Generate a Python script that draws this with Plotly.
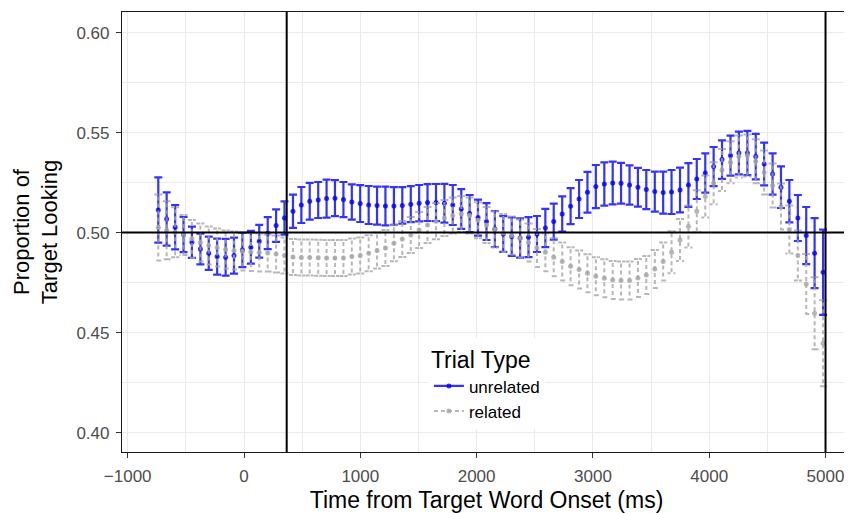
import plotly.graph_objects as go

# ---------------- data ----------------
time_ms = [-737, -665, -592, -520, -448, -375, -303, -231, -158, -86,
           -14, 59, 131, 204, 276, 348, 421, 493, 565, 638,
           710, 782, 855, 927, 999, 1072, 1144, 1216, 1289, 1361,
           1434, 1506, 1578, 1651, 1723, 1795, 1868, 1940, 2012, 2085,
           2157, 2229, 2302, 2374, 2446, 2519, 2591, 2663, 2736, 2808,
           2881, 2953, 3025, 3098, 3170, 3242, 3315, 3387, 3459, 3532,
           3604, 3676, 3749, 3821, 3893, 3966, 4038, 4110, 4183, 4255,
           4328, 4400, 4472, 4545, 4617, 4689, 4762, 4834, 4906, 4979]

unrelated_mean = [0.5113, 0.5068, 0.5027, 0.4990, 0.4952, 0.4918, 0.4897, 0.4880, 0.4877, 0.4885,
                  0.4913, 0.4927, 0.4957, 0.4997, 0.5035, 0.5073, 0.5107, 0.5138, 0.5157, 0.5163,
                  0.5170, 0.5172, 0.5165, 0.5153, 0.5145, 0.5138, 0.5135, 0.5133, 0.5133, 0.5136,
                  0.5142, 0.5147, 0.5150, 0.5150, 0.5147, 0.5138, 0.5118, 0.5095, 0.5075, 0.5055,
                  0.5018, 0.4993, 0.4980, 0.4973, 0.4977, 0.4993, 0.5023, 0.5055, 0.5093, 0.5132,
                  0.5168, 0.5202, 0.5230, 0.5243, 0.5248, 0.5247, 0.5238, 0.5227, 0.5215, 0.5205,
                  0.5200, 0.5203, 0.5213, 0.5238, 0.5268, 0.5298, 0.5330, 0.5365, 0.5385, 0.5398,
                  0.5398, 0.5380, 0.5343, 0.5293, 0.5227, 0.5157, 0.5073, 0.4985, 0.4897, 0.4802]

unrelated_se = [0.0163, 0.0133, 0.0111, 0.0088, 0.0078, 0.0077, 0.0083, 0.0090, 0.0092, 0.0090,
                0.0086, 0.0082, 0.0082, 0.0080, 0.0081, 0.0083, 0.0083, 0.0090, 0.0092, 0.0090,
                0.0095, 0.0090, 0.0088, 0.0088, 0.0092, 0.0095, 0.0095, 0.0097, 0.0094, 0.0091,
                0.0090, 0.0091, 0.0092, 0.0093, 0.0097, 0.0100, 0.0099, 0.0093, 0.0090, 0.0092,
                0.0090, 0.0089, 0.0096, 0.0098, 0.0100, 0.0090, 0.0096, 0.0090, 0.0088, 0.0090,
                0.0095, 0.0102, 0.0108, 0.0108, 0.0107, 0.0102, 0.0098, 0.0097, 0.0098, 0.0100,
                0.0105, 0.0110, 0.0112, 0.0109, 0.0100, 0.0098, 0.0098, 0.0096, 0.0100, 0.0107,
                0.0111, 0.0114, 0.0107, 0.0103, 0.0104, 0.0106, 0.0115, 0.0143, 0.0175, 0.0213]

related_mean = [0.5025, 0.5012, 0.5002, 0.4988, 0.4968, 0.4950, 0.4935, 0.4925, 0.4915, 0.4910,
                0.4905, 0.4903, 0.4900, 0.4898, 0.4893, 0.4885, 0.4878, 0.4876, 0.4875, 0.4874,
                0.4873, 0.4873, 0.4873, 0.4880, 0.4885, 0.4897, 0.4910, 0.4923, 0.4947, 0.4968,
                0.4988, 0.5013, 0.5038, 0.5057, 0.5073, 0.5085, 0.5093, 0.5085, 0.5062, 0.5038,
                0.5015, 0.4998, 0.4985, 0.4970, 0.4950, 0.4923, 0.4902, 0.4877, 0.4855, 0.4832,
                0.4815, 0.4797, 0.4782, 0.4772, 0.4763, 0.4760, 0.4760, 0.4773, 0.4788, 0.4818,
                0.4855, 0.4902, 0.4963, 0.5030, 0.5107, 0.5180, 0.5247, 0.5313, 0.5352, 0.5380,
                0.5385, 0.5357, 0.5300, 0.5235, 0.5130, 0.5015, 0.4885, 0.4743, 0.4597, 0.4447]

related_se = [0.0165, 0.0145, 0.0125, 0.0100, 0.0095, 0.0095, 0.0095, 0.0095, 0.0095, 0.0095,
              0.0095, 0.0095, 0.0095, 0.0093, 0.0092, 0.0090, 0.0090, 0.0090, 0.0090, 0.0090,
              0.0090, 0.0090, 0.0090, 0.0090, 0.0090, 0.0090, 0.0090, 0.0090, 0.0090, 0.0090,
              0.0090, 0.0090, 0.0090, 0.0090, 0.0090, 0.0090, 0.0090, 0.0090, 0.0090, 0.0090,
              0.0090, 0.0095, 0.0095, 0.0095, 0.0095, 0.0095, 0.0095, 0.0095, 0.0095, 0.0095,
              0.0095, 0.0095, 0.0095, 0.0095, 0.0095, 0.0095, 0.0095, 0.0095, 0.0095, 0.0095,
              0.0095, 0.0105, 0.0105, 0.0105, 0.0105, 0.0105, 0.0105, 0.0105, 0.0105, 0.0105,
              0.0105, 0.0110, 0.0110, 0.0110, 0.0115, 0.0120, 0.0125, 0.0150, 0.0180, 0.0215]

series_names = ["unrelated", "related"]
ref_vlines = [367, 5000]
ref_hline = 0.5
x_ticks = [-1000, 0, 1000, 2000, 3000, 4000, 5000]
x_ticklabels = ["\u22121000", "0", "1000", "2000", "3000", "4000", "5000"]
y_ticks = [0.40, 0.45, 0.50, 0.55, 0.60]
y_ticklabels = ["0.40", "0.45", "0.50", "0.55", "0.60"]

# ---------------- style ----------------
FONT = "Liberation Sans, Arial, sans-serif"
BLUE = "rgba(0,0,255,0.8)"
GREY = "rgba(165,165,165,0.8)"
X_RANGE = [-1049, 5219]
Y_RANGE = [0.3903, 0.6103]
# the page body adds an 8px offset, so the figure is sized/marginned to compensate
W, H = 844, 505
M = dict(l=114, r=1, t=4, b=61)
plot_w = W - M["l"] - M["r"]
cap_px = 4
cap_ms = cap_px * (X_RANGE[1] - X_RANGE[0]) / plot_w

fig = go.Figure()

# unrelated: points with solid error bars
fig.add_trace(go.Scatter(
    x=time_ms, y=unrelated_mean, mode="markers", showlegend=False,
    marker=dict(color=BLUE, size=5),
    error_y=dict(type="data", array=unrelated_se, visible=True,
                 color=BLUE, thickness=2.2, width=cap_px),
    hoverinfo="skip"))

# related: dashed error bars built as a path (ggplot errorbar path order)
ex, ey = [], []
for t, m, s in zip(time_ms, related_mean, related_se):
    hi, lo = m + s, m - s
    ex += [t - cap_ms, t + cap_ms, t, t, t + cap_ms, t - cap_ms, None]
    ey += [hi, hi, hi, lo, lo, lo, None]
fig.add_trace(go.Scatter(
    x=ex, y=ey, mode="lines", showlegend=False, hoverinfo="skip",
    line=dict(color=GREY, width=2, dash="4px,3px")))
fig.add_trace(go.Scatter(
    x=time_ms, y=related_mean, mode="markers", showlegend=False,
    marker=dict(color=GREY, size=5), hoverinfo="skip"))

# legend entries
fig.add_trace(go.Scatter(x=[None], y=[None], mode="lines+markers", name=series_names[0],
                         line=dict(color=BLUE, width=2.2),
                         marker=dict(color=BLUE, size=5)))
fig.add_trace(go.Scatter(x=[None], y=[None], mode="lines+markers", name=series_names[1],
                         line=dict(color=GREY, width=2, dash="4px,3px"),
                         marker=dict(color=GREY, size=5)))

for xv in ref_vlines:
    fig.add_shape(type="line", xref="x", yref="paper", x0=xv, x1=xv, y0=0, y1=1,
                  line=dict(color="black", width=2), layer="above")
fig.add_shape(type="line", xref="paper", yref="y", x0=0, x1=1, y0=ref_hline, y1=ref_hline,
              line=dict(color="black", width=2), layer="above")

axis_common = dict(
    showgrid=True, gridcolor="#EBEBEB", gridwidth=1.1,
    zeroline=False, showline=True, linecolor="#1a1a1a", linewidth=1.2, mirror=True,
    ticks="outside", ticklen=5, tickwidth=1.1, tickcolor="#333333",
    ticklabelstandoff=3,
    tickfont=dict(family=FONT, size=17, color="#4D4D4D"),
)

fig.update_layout(
    width=W, height=H, margin=M,
    paper_bgcolor="white", plot_bgcolor="white",
    font=dict(family=FONT),
    xaxis=dict(range=X_RANGE, tickvals=x_ticks, ticktext=x_ticklabels,
               minor=dict(dtick=500, tick0=-1000, showgrid=True, gridcolor="#EBEBEB", gridwidth=0.6, ticks=""),
               title=dict(text="Time from Target Word Onset (ms)", standoff=8,
                          font=dict(family=FONT, size=23, color="black")),
               **axis_common),
    yaxis=dict(range=Y_RANGE, tickvals=y_ticks, ticktext=y_ticklabels,
               minor=dict(dtick=0.025, tick0=0.4, showgrid=True, gridcolor="#EBEBEB", gridwidth=0.6, ticks=""),
               title=dict(text="Proportion of<br>Target Looking", standoff=12,
                          font=dict(family=FONT, size=22, color="black")),
               **axis_common),
    legend=dict(
        x=0.421, y=0.258, xanchor="left", yanchor="top",
        bgcolor="white", borderwidth=0,
        title=dict(text="Trial Type", font=dict(family=FONT, size=23, color="black")),
        font=dict(family=FONT, size=17, color="black"),
        tracegroupgap=0, itemwidth=30,
    ),
)

fig.write_html("out.html")
